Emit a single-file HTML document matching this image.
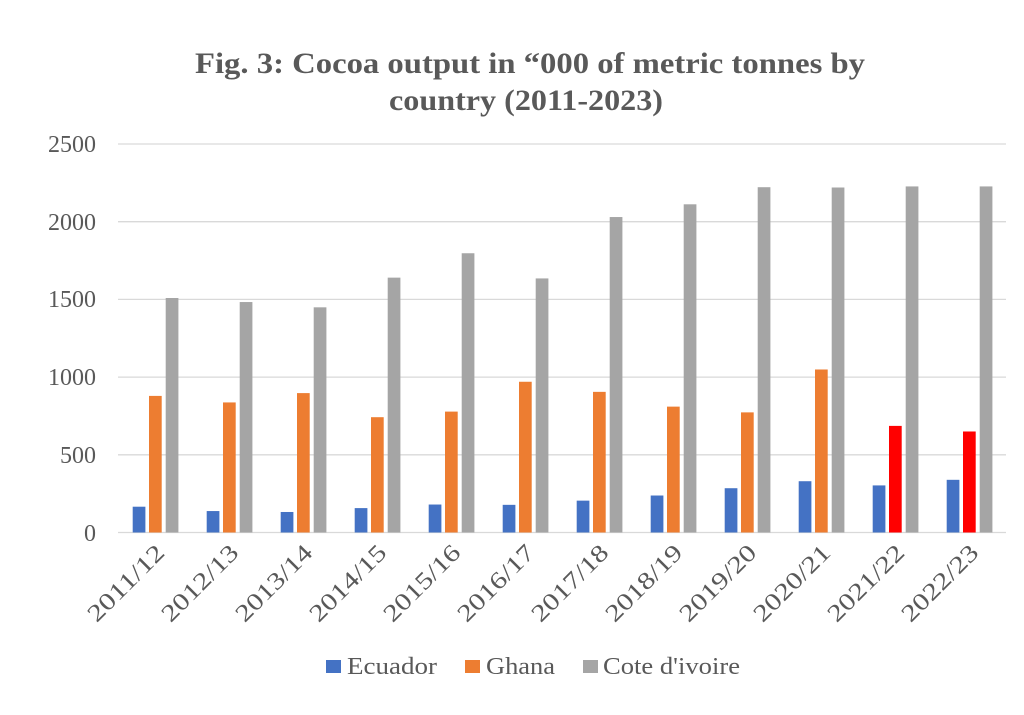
<!DOCTYPE html>
<html><head><meta charset="utf-8"><style>
html,body{margin:0;padding:0;background:#fff;}
svg{display:block;font-family:"Liberation Serif",serif;}
</style></head><body>
<svg width="1024" height="715" viewBox="0 0 1024 715" xmlns="http://www.w3.org/2000/svg">
<rect width="1024" height="715" fill="#fff"/>
<g fill="#595959" font-weight="bold" font-size="30" text-anchor="middle">
<text x="530" y="73" textLength="670" lengthAdjust="spacingAndGlyphs">Fig. 3: Cocoa output in “000 of metric tonnes by</text>
<text x="526" y="110" textLength="274" lengthAdjust="spacingAndGlyphs">country (2011-2023)</text>
</g>
<g stroke="#d9d9d9" stroke-width="1.3">
<line x1="118" x2="1006" y1="144" y2="144"/>
<line x1="118" x2="1006" y1="221.7" y2="221.7"/>
<line x1="118" x2="1006" y1="299.4" y2="299.4"/>
<line x1="118" x2="1006" y1="377.1" y2="377.1"/>
<line x1="118" x2="1006" y1="454.8" y2="454.8"/>
<line x1="118" x2="1006" y1="532.5" y2="532.5"/>
</g>
<g fill="#595959" font-size="24" text-anchor="end">
<text x="96" y="152">2500</text>
<text x="96" y="230">2000</text>
<text x="96" y="307">1500</text>
<text x="96" y="385">1000</text>
<text x="96" y="463">500</text>
<text x="96" y="541">0</text>
</g>
<g id="bars"></g>
<g id="xl" fill="#595959" font-size="24" text-anchor="end"></g>
<g font-size="24" fill="#595959">
<rect x="326" y="660" width="15" height="13" fill="#4472c4"/><text x="347" y="674" textLength="90" lengthAdjust="spacingAndGlyphs">Ecuador</text>
<rect x="465" y="660" width="15" height="13" fill="#ed7d31"/><text x="486" y="674" textLength="69" lengthAdjust="spacingAndGlyphs">Ghana</text>
<rect x="583" y="660" width="15" height="13" fill="#a5a5a5"/><text x="603" y="674" textLength="137" lengthAdjust="spacingAndGlyphs">Cote d'ivoire</text>
</g>
<script>
var d=[[166,879,1509],[138,837,1483],[132,897,1449],[157,742,1640],[180,778,1797],[178,970,1635],[205,905,2030],[238,810,2112],[285,773,2222],[330,1049,2220],[303,686,2227],[339,650,2227]];
var L=["2011/12","2012/13","2013/14","2014/15","2015/16","2016/17","2017/18","2018/19","2019/20","2020/21","2021/22","2022/23"];
var ns="http://www.w3.org/2000/svg",b=document.getElementById("bars"),x=document.getElementById("xl");
var off=[14.7,31,47.7];
d.forEach(function(r,i){
 var g=118+74*i;
 r.forEach(function(v,j){
  var h=v/500*77.7,e=document.createElementNS(ns,"rect");
  e.setAttribute("x",g+off[j]);e.setAttribute("y",532.5-h);e.setAttribute("width",12.7);e.setAttribute("height",h);
  var c=["#4472c4","#ed7d31","#a5a5a5"][j]; if(j==1&&i>=10)c="#ff0000";
  e.setAttribute("fill",c);b.appendChild(e);
 });
 var t=document.createElementNS(ns,"text");
 var cx=g+48,cy=554;
 t.setAttribute("x",cx);t.setAttribute("y",cy);
 t.setAttribute("textLength",98);t.setAttribute("lengthAdjust","spacingAndGlyphs");
 t.setAttribute("transform","rotate(-45 "+cx+" "+cy+")");
 t.textContent=L[i];x.appendChild(t);
});
</script>
</svg>
</body></html>
